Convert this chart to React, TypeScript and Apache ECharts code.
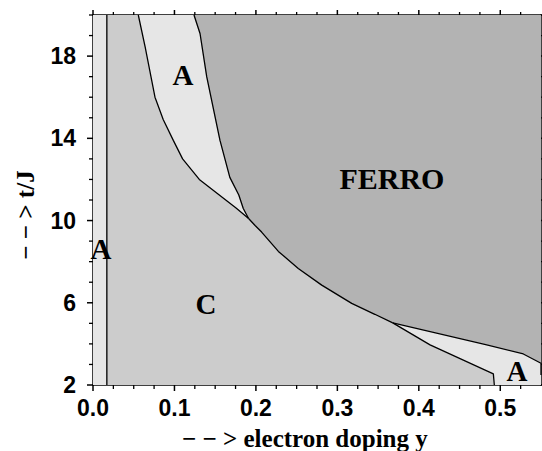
import React, { useEffect, useRef } from 'react';
import * as echarts from 'echarts';

// Axis ranges and tick values
const X_MIN = 0;
const X_MAX = 0.55;
const Y_MIN = 2;
const Y_MAX = 20;
const xMajorTicks = [0, 0.1, 0.2, 0.3, 0.4, 0.5];
const yMajorTicks = [2, 6, 10, 14, 18];
const xMinorTicks = [
  0.025, 0.05, 0.075, 0.125, 0.15, 0.175, 0.225, 0.25, 0.275, 0.325, 0.35, 0.375,
  0.425, 0.45, 0.475, 0.525,
];
const yMinorTicks = [3, 4, 5, 7, 8, 9, 11, 12, 13, 15, 16, 17, 19, 20];

// Phase boundaries [electron doping y, t/J]
const stripX = 0.017;
const stripLine = [[stripX, 2], [stripX, 20]];
// C | A boundary (upper left), from top down to merge point
const curveCA = [
  [0.0556, 20], [0.064, 18.45], [0.0761, 16.0], [0.0863, 14.9], [0.0986, 13.9],
  [0.11, 13.0], [0.1305, 12.0], [0.176, 10.6], [0.191, 10.1],
];
// A | FERRO boundary, from top down to merge point
const curveAF = [
  [0.124, 20], [0.1314, 19.1], [0.1396, 17.0], [0.1559, 13.9], [0.168, 12.1],
  [0.179, 11.24], [0.1845, 10.59], [0.191, 10.1],
];
// C | FERRO boundary, from merge point to branch point
const curveCF = [
  [0.191, 10.1], [0.199, 9.76], [0.207, 9.44], [0.2276, 8.5], [0.252, 7.67], [0.2808, 6.86],
  [0.3176, 5.97], [0.346, 5.44], [0.368, 5.02],
];
// C | A boundary (lower right), from branch point to the x axis
const branchCA = [[0.368, 5.02], [0.4138, 3.95], [0.4915, 2.54], [0.4927, 2.0]];
// A | FERRO boundary (lower right), from branch point to the right edge
const branchAF = [[0.368, 5.02], [0.4834, 3.95], [0.5283, 3.51], [0.55, 3.06], [0.55, 2.49]];

// Region labels
const labelNames = ['A', 'A', 'C', 'FERRO', 'A'];
const labelPositions = [[0.0098, 8.61], [0.1105, 17.08], [0.1387, 5.94], [0.367, 12.07], [0.5206, 2.68]];

const COL_A = '#e6e6e6';
const COL_C = '#cccccc';
const COL_F = '#b3b3b3';

export default function App() {
  const ref = useRef<HTMLDivElement>(null);
  useEffect(() => {
    if (!ref.current) return;
    const chart = echarts.init(ref.current, undefined, { renderer: 'svg' });

    const regions = [
      { color: COL_A, pts: [[0, 2], [0, 20], [stripX, 20], [stripX, 2]] },
      {
        color: COL_C,
        pts: [[stripX, 2], [stripX, 20], ...curveCA, ...curveCF.slice(1), ...branchCA.slice(1)],
      },
      { color: COL_A, pts: [...curveCA, ...curveAF.slice().reverse().slice(1)] },
      {
        color: COL_F,
        pts: [...curveAF, ...curveCF.slice(1), ...branchAF.slice(1, branchAF.length - 1), [0.55, 20]],
      },
      { color: COL_A, pts: [...branchAF, [0.55, 2], ...branchCA.slice().reverse()] },
    ];

    const boundaries = [stripLine, curveCA, curveAF, curveCF, branchCA, branchAF];

    // tick marks; side 0 bottom, 1 top, 2 left, 3 right
    const ticks: { side: number; v: number; major: boolean }[] = [];
    xMajorTicks.forEach((v) => {
      ticks.push({ side: 0, v, major: true });
      ticks.push({ side: 1, v, major: true });
    });
    xMinorTicks.forEach((v) => {
      ticks.push({ side: 0, v, major: false });
      ticks.push({ side: 1, v, major: false });
    });
    yMajorTicks.forEach((v) => {
      ticks.push({ side: 2, v, major: true });
      ticks.push({ side: 3, v, major: true });
    });
    yMinorTicks.forEach((v) => {
      ticks.push({ side: 2, v, major: false });
      ticks.push({ side: 3, v, major: false });
    });

    const tickFont = {
      fontFamily: 'Liberation Sans',
      fontWeight: 'bold' as const,
      fontSize: 23,
      color: '#000',
    };
    const black = { color: '#000', width: 1.5 };

    chart.setOption({
      animation: false,
      backgroundColor: '#fff',
      grid: { left: 93, right: 1, top: 15, bottom: 66 },
      xAxis: [
        {
          type: 'value',
          min: X_MIN,
          max: X_MAX,
          position: 'bottom',
          splitLine: { show: false },
          axisLine: { show: true, lineStyle: black, onZero: false },
          axisTick: { show: false },
          axisLabel: {
            ...tickFont,
            margin: 11,
            customValues: xMajorTicks,
            formatter: (v: number) => v.toFixed(1),
          },
        },
        {
          type: 'value',
          min: X_MIN,
          max: X_MAX,
          position: 'top',
          splitLine: { show: false },
          axisLine: { show: true, lineStyle: black, onZero: false },
          axisTick: { show: false },
          axisLabel: { show: false },
        },
      ],
      yAxis: [
        {
          type: 'value',
          min: Y_MIN,
          max: Y_MAX,
          position: 'left',
          splitLine: { show: false },
          axisLine: { show: true, lineStyle: black, onZero: false },
          axisTick: { show: false },
          axisLabel: { ...tickFont, margin: 17, customValues: yMajorTicks },
        },
        {
          type: 'value',
          min: Y_MIN,
          max: Y_MAX,
          position: 'right',
          splitLine: { show: false },
          axisLine: { show: true, lineStyle: black, onZero: false },
          axisTick: { show: false },
          axisLabel: { show: false },
        },
      ],
      graphic: [
        {
          type: 'text',
          x: 182,
          y: 438,
          style: {
            text: '\u2212 \u2212 > electron doping y',
            fontFamily: 'Liberation Serif',
            fontWeight: 'bold',
            fontSize: 25,
            fill: '#000',
            align: 'left',
            verticalAlign: 'middle',
          },
        },
        {
          type: 'text',
          x: 25,
          y: 215,
          rotation: Math.PI / 2,
          style: {
            text: '\u2212 \u2212 > t/J',
            fontFamily: 'Liberation Serif',
            fontWeight: 'bold',
            fontSize: 25,
            fill: '#000',
            align: 'center',
            verticalAlign: 'middle',
          },
        },
      ],
      series: [
        {
          type: 'custom',
          xAxisIndex: 0,
          yAxisIndex: 0,
          silent: true,
          clip: true,
          z: 1,
          data: regions.map(() => [X_MIN, Y_MIN]),
          renderItem: (params: any, api: any) => {
            const r = regions[params.dataIndex];
            return {
              type: 'polygon',
              shape: { points: r.pts.map((p) => api.coord(p)) },
              style: { fill: r.color, stroke: r.color, lineWidth: 0.5 },
            };
          },
        },
        ...boundaries.map((b) => ({
          type: 'line',
          xAxisIndex: 0,
          yAxisIndex: 0,
          data: b,
          symbol: 'none',
          silent: true,
          z: 3,
          lineStyle: { color: '#000', width: 1.3 },
        })),
        {
          type: 'custom',
          xAxisIndex: 0,
          yAxisIndex: 0,
          silent: true,
          clip: false,
          z: 6,
          data: ticks.map(() => [X_MIN, Y_MIN]),
          renderItem: (params: any, api: any) => {
            const t = ticks[params.dataIndex];
            let x1 = 0, y1 = 0, x2 = 0, y2 = 0;
            if (t.side === 0 || t.side === 1) {
              const p = api.coord([t.v, t.side === 0 ? Y_MIN : Y_MAX]);
              const len = t.side === 0 ? (t.major ? 6 : 4) : (t.major ? 5 : 3);
              x1 = x2 = p[0];
              y1 = p[1];
              y2 = t.side === 0 ? p[1] + len : p[1] - len;
            } else {
              const p = api.coord([t.side === 2 ? X_MIN : X_MAX, t.v]);
              const len = t.side === 2 ? (t.major ? 6 : 4) : 3;
              y1 = y2 = p[1];
              x1 = p[0];
              x2 = t.side === 2 ? p[0] - len : p[0] + len;
            }
            return {
              type: 'line',
              shape: { x1, y1, x2, y2 },
              style: { stroke: '#000', lineWidth: t.major ? 1.5 : 1.3 },
            };
          },
        },
        {
          type: 'custom',
          xAxisIndex: 0,
          yAxisIndex: 0,
          silent: true,
          z: 5,
          data: labelPositions,
          renderItem: (params: any, api: any) => {
            const p = api.coord([api.value(0), api.value(1)]);
            const name = labelNames[params.dataIndex];
            return {
              type: 'text',
              x: p[0],
              y: p[1],
              style: {
                text: name,
                fontFamily: 'Liberation Serif',
                fontWeight: 'bold',
                fontSize: name === 'FERRO' ? 30 : 29,
                fill: '#000',
                align: 'center',
                verticalAlign: 'middle',
              },
            };
          },
        },
      ],
    });
    return () => chart.dispose();
  }, []);
  return (
    <div
      ref={ref}
      style={{ position: 'fixed', left: 0, top: 0, width: 542, height: 451, background: '#fff' }}
    />
  );
}
